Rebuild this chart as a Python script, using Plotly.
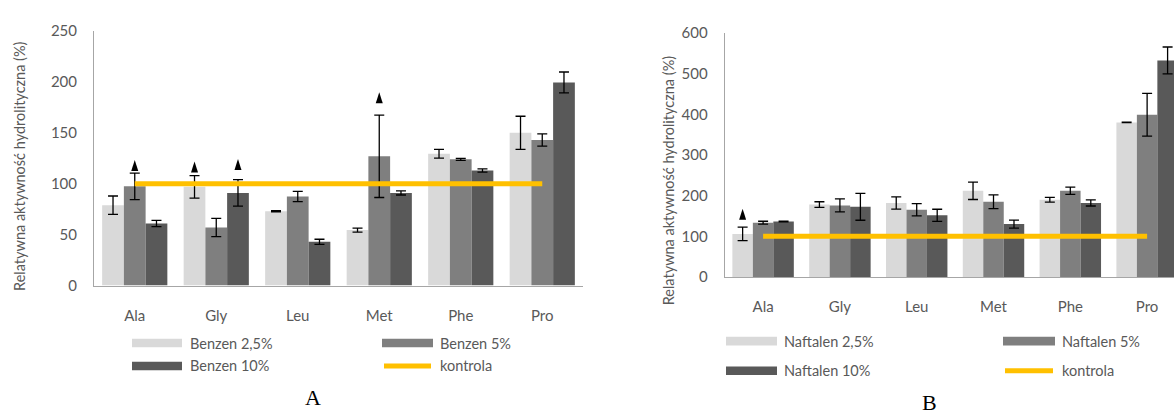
import numpy as np
import plotly.graph_objects as go

W, H = 1174, 418

# ---- data -------------------------------------------------------------
amino_acids = ["Ala", "Gly", "Leu", "Met", "Phe", "Pro"]

benz_names = ["Benzen 2,5%", "Benzen 5%", "Benzen 10%"]
benz_25 = [79, 97, 73, 54.5, 129.5, 150]
benz_5 = [97.5, 57, 87.5, 127, 124, 143]
benz_10 = [61, 91, 43, 91, 113, 199.5]
benz_25_err = [9, 11, 0.5, 2, 4.3, 16.3]
benz_5_err = [13, 9, 5, 40.5, 1, 6]
benz_10_err = [3, 13, 2.5, 2, 1.6, 10.3]
# significance triangles: (series index, category index, height)
benz_sig = [(1, 0, 118), (0, 1, 116.5), (2, 1, 119), (1, 3, 184.5)]

naft_names = ["Naftalen 2,5%", "Naftalen 5%", "Naftalen 10%"]
naft_25 = [106, 178, 182, 212, 190, 380]
naft_5 = [133.5, 176, 165.5, 185, 212, 399]
naft_10 = [136.5, 172.5, 151.5, 130, 182, 532.5]
naft_25_err = [16.5, 7, 15, 21.5, 6, 0.5]
naft_5_err = [3.5, 16, 15, 17, 9, 52.6]
naft_10_err = [1, 33, 15, 10, 7.5, 33]
naft_sig = [(0, 0, 154)]

control_name = "kontrola"
control_value = 100

# ---- styling ----------------------------------------------------------
bar_colors = ["#D9D9D9", "#7F7F7F", "#595959"]
control_color = "#FFC000"
text_color = "#595959"
axis_color = "#A6A6A6"
font_family = "Lato, 'Open Sans', sans-serif"
BARGAP = 0.2


def px(x):
    return x / W


def py(y):
    return 1 - y / H


fig = go.Figure()
xs = np.arange(len(amino_acids))
shapes = []

panels = [
    dict(xa="x", ya="y", names=benz_names,
         vals=[benz_25, benz_5, benz_10],
         errs=[benz_25_err, benz_5_err, benz_10_err], sig=benz_sig),
    dict(xa="x2", ya="y2", names=naft_names,
         vals=[naft_25, naft_5, naft_10],
         errs=[naft_25_err, naft_5_err, naft_10_err], sig=naft_sig),
]

bar_w = (1 - BARGAP) / 3
for p in panels:
    for k, (name, v, e) in enumerate(zip(p["names"], p["vals"], p["errs"])):
        fig.add_trace(go.Bar(
            x=xs, y=v, name=name, xaxis=p["xa"], yaxis=p["ya"],
            marker=dict(color=bar_colors[k], line=dict(width=0)),
            error_y=dict(type="data", array=e, visible=True,
                         color="#000000", thickness=1.3, width=5),
            showlegend=False, offsetgroup=str(k),
        ))
    # control level line from first to last category centre
    fig.add_trace(go.Scatter(
        x=[xs[0], xs[-1]], y=[control_value, control_value],
        mode="lines", line=dict(color=control_color, width=5),
        xaxis=p["xa"], yaxis=p["ya"], showlegend=False, name=control_name,
    ))
    # narrow significance triangles anchored above selected bars
    for k, c, h in p["sig"]:
        shapes.append(dict(
            type="path", xref=p["xa"], yref=p["ya"],
            xsizemode="pixel", ysizemode="pixel",
            xanchor=c + (k - 1) * bar_w, yanchor=h,
            path="M-3.5,-5.5 L3.5,-5.5 L0,5.5 Z",
            fillcolor="#000000", line=dict(width=0),
        ))

axis_common = dict(showgrid=False, zeroline=False, showline=True,
                   linecolor=axis_color, linewidth=1,
                   tickfont=dict(family=font_family, size=15, color=text_color))

fig.update_layout(
    width=W, height=H,
    margin=dict(l=0, r=0, t=0, b=0),
    paper_bgcolor="white", plot_bgcolor="white",
    barmode="group", bargap=BARGAP, bargroupgap=0,
    showlegend=False,
    xaxis=dict(domain=[px(94), px(583)], range=[-0.5, 5.5],
               tickvals=list(xs), ticktext=amino_acids, ticks="",
               ticklabelstandoff=16, anchor="y", **axis_common),
    yaxis=dict(domain=[py(288), py(22)], range=[0, 250], dtick=50,
               ticks="", ticklabelstandoff=13, anchor="x", **axis_common),
    xaxis2=dict(domain=[px(724.7), 1.0], range=[-0.5, 5.35],
                tickvals=list(xs), ticktext=amino_acids, ticks="",
                ticklabelstandoff=16, anchor="y2", **axis_common),
    yaxis2=dict(domain=[py(279), py(24)], range=[0, 600], dtick=100,
                ticks="", ticklabelstandoff=13, anchor="x2", **axis_common),
)

ytitle = "Relatywna aktywność hydrolityczna (%)"
annotations = [
    dict(x=px(20), y=py(163), text=ytitle, textangle=-90),
    dict(x=px(668), y=py(178), text=ytitle, textangle=-90),
]
for a in annotations:
    a.update(xref="paper", yref="paper", showarrow=False,
             xanchor="center", yanchor="middle",
             font=dict(family=font_family, size=14.5, color=text_color))

# legends drawn as swatch + label pairs
legend_layouts = [
    dict(names=benz_names, cols=[(132, 182, 188), (382, 433, 438)], rows=[348, 372]),
    dict(names=naft_names, cols=[(726, 777, 782), (1003, 1055, 1060)], rows=[346, 377]),
]
for lg in legend_layouts:
    entries = [(n, "bar", bar_colors[i]) for i, n in enumerate(lg["names"])]
    entries.append((control_name, "line", control_color))
    for i, (label, kind, color) in enumerate(entries):
        x0, x1, tx = lg["cols"][i % 2]
        yc = lg["rows"][i // 2]
        if kind == "bar":
            shapes.append(dict(type="rect", xref="paper", yref="paper",
                               x0=px(x0), x1=px(x1), y0=py(yc + 4.5), y1=py(yc - 4.5),
                               fillcolor=color, line=dict(width=0)))
        else:
            shapes.append(dict(type="line", xref="paper", yref="paper",
                               x0=px(x0 + 2), x1=px(x1 - 2), y0=py(yc), y1=py(yc),
                               line=dict(color=color, width=5)))
        annotations.append(dict(
            x=px(tx), y=py(yc), xref="paper", yref="paper", text=label,
            showarrow=False, xanchor="left", yanchor="middle",
            font=dict(family=font_family, size=14.5, color=text_color)))

# panel letters
for letter, x, y in [("A", 313, 405), ("B", 929, 410)]:
    annotations.append(dict(
        x=px(x), y=py(y), xref="paper", yref="paper", text=letter,
        showarrow=False, xanchor="center", yanchor="middle",
        font=dict(family="'Liberation Serif', 'Times New Roman', serif",
                  size=22, color="#000000")))

fig.update_layout(annotations=annotations, shapes=shapes)
fig.write_html("out.html")
